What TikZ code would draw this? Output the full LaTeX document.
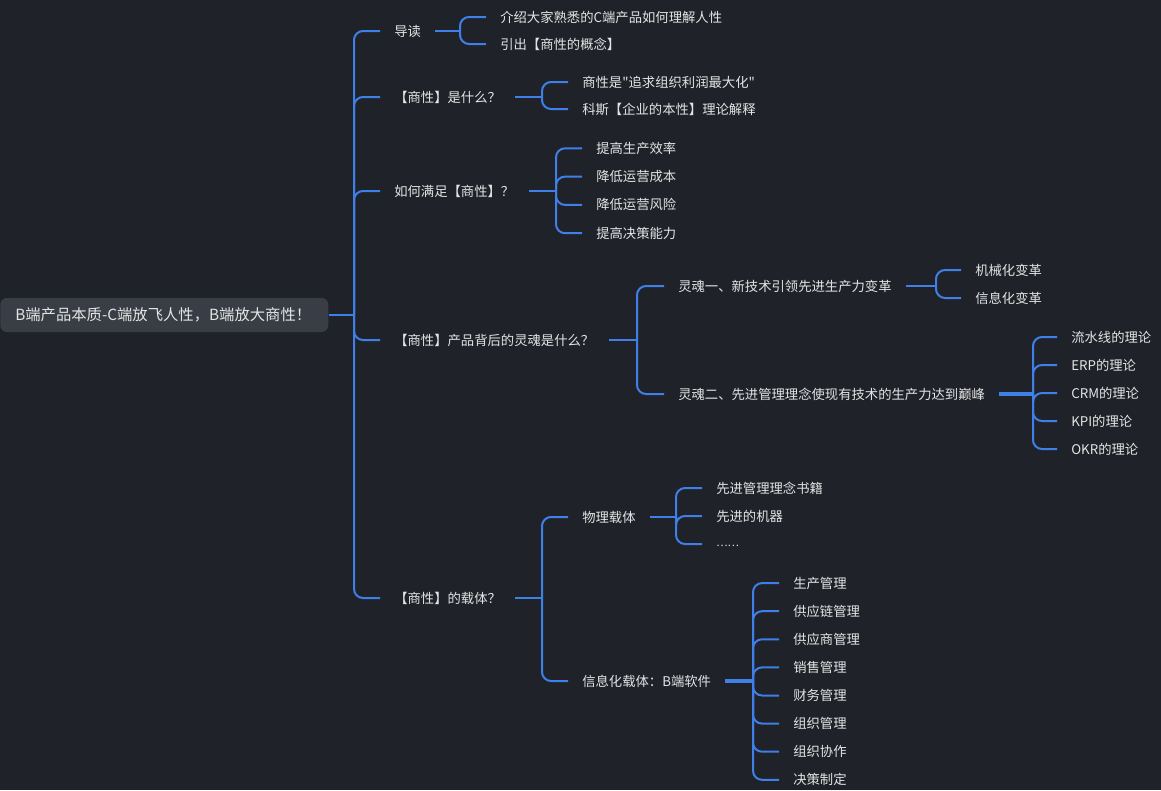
\documentclass[tikz,border=0pt]{standalone}
\usepackage{fontspec}
\setmainfont[Ligatures=TeXOff]{Noto Sans CJK SC}
\usetikzlibrary{calc}
\definecolor{bg}{HTML}{1F2229}
\definecolor{hubfill}{HTML}{393D45}
\definecolor{lnblue}{HTML}{3F7FE8}
\definecolor{txt}{HTML}{E4E4E4}

\begin{document}
\begin{tikzpicture}[
  x=0.75pt, y=-0.75pt,
  hub/.style={
    fill=hubfill, rounded corners=5pt, anchor=west,
    text width=223.5pt, inner xsep=11.25pt, align=left,
    minimum height=25.5pt,
    text=txt, font=\fontsize{11.5}{13.5}\selectfont
  },
  tpc/.style={
    anchor=west, inner xsep=10.5pt, inner ysep=2pt,
    text=txt, font=\fontsize{10}{12}\selectfont
  },
  lnk/.style={draw=lnblue, line width=1.5pt, rounded corners=6.75pt},
  lnkw/.style={lnk, line width=2.6pt},
]
\fill[bg] (0,0) rectangle (1161,790);
\useasboundingbox (0,0) rectangle (1161,790);

%% root and first level
\node[hub] (root) at (0,315) {B端产品本质-C端放飞人性，B端放大商性！};
\coordinate (trunk) at (354,315);

\node[tpc] (t1) at (380,31)  {导读};
\node[tpc] (t2) at (380,97)  {【商性】是什么？};
\node[tpc] (t3) at (380,191) {如何满足【商性】？};
\node[tpc] (t4) at (380,340) {【商性】产品背后的灵魂是什么？};
\node[tpc] (t5) at (380,598) {【商性】的载体？};

\draw[lnk] (root.east) -- (trunk);
\foreach \c in {t1,t2,t3,t4,t5}
  \draw[lnk] (trunk) |- (\c.west);

%% 导读
\node[tpc] (t1a) at (486,17) {介绍大家熟悉的C端产品如何理解人性};
\node[tpc] (t1b) at (486,44) {引出【商性的概念】};
\coordinate (f1) at (460,31);
\draw[lnk] (t1.east) -- (f1);
\foreach \c in {t1a,t1b}
  \draw[lnk] (f1) |- (\c.west);

%% 是什么
\node[tpc] (t2a) at (568,82)  {商性是"追求组织利润最大化"};
\node[tpc] (t2b) at (568,109) {科斯【企业的本性】理论解释};
\coordinate (f2) at (542,97);
\draw[lnk] (t2.east) -- (f2);
\foreach \c in {t2a,t2b}
  \draw[lnk] (f2) |- (\c.west);

%% 如何满足
\foreach \t [count=\i] in {提高生产效率,降低运营成本,降低运营风险,提高决策能力}
  \node[tpc] (t3\i) at (582,120+28.3*\i) {\t};
\coordinate (f3) at (556,191);
\draw[lnk] (t3.east) -- (f3);
\foreach \i in {1,...,4}
  \draw[lnk] (f3) |- (t3\i.west);

%% 灵魂
\node[tpc] (t4a) at (664,286) {灵魂一、新技术引领先进生产力变革};
\node[tpc] (t4b) at (664,394) {灵魂二、先进管理理念使现有技术的生产力达到巅峰};
\coordinate (f4) at (637,340);
\draw[lnk] (t4.east) -- (f4);
\foreach \c in {t4a,t4b}
  \draw[lnk] (f4) |- (\c.west);

\node[tpc] (t4aa) at (961,270) {机械化变革};
\node[tpc] (t4ab) at (961,298) {信息化变革};
\coordinate (f4a) at (936,286);
\draw[lnk] (t4a.east) -- (f4a);
\foreach \c in {t4aa,t4ab}
  \draw[lnk] (f4a) |- (\c.west);

\foreach \t [count=\i] in {流水线的理论,ERP的理论,CRM的理论,KPI的理论,OKR的理论}
  \node[tpc] (t4b\i) at (1057,309+28*\i) {\t};
\coordinate (f4b) at (1033,394);
\draw[lnkw] (t4b.east) -- (f4b);
\foreach \i in {1,...,5}
  \draw[lnk] (f4b) |- (t4b\i.west);

%% 载体
\node[tpc] (t5a) at (568,517) {物理载体};
\node[tpc] (t5b) at (568,681) {信息化载体：B端软件};
\coordinate (f5) at (542,598);
\draw[lnk] (t5.east) -- (f5);
\foreach \c in {t5a,t5b}
  \draw[lnk] (f5) |- (\c.west);

\node[tpc] (t5a1) at (702,488) {先进管理理念书籍};
\node[tpc] (t5a2) at (702,516) {先进的机器};
\node[tpc] (t5a3) at (702,544) {\fontsize{8}{10}\selectfont\raisebox{-3.5pt}{……}};
\coordinate (f5a) at (676,517);
\draw[lnk] (t5a.east) -- (f5a);
\foreach \i in {1,...,3}
  \draw[lnk] (f5a) |- (t5a\i.west);

\foreach \t [count=\i] in {生产管理,供应链管理,供应商管理,销售管理,财务管理,组织管理,组织协作,决策制定}
  \node[tpc] (t5b\i) at (779,555+28.1*\i) {\t};
\coordinate (f5b) at (753,681);
\draw[lnkw] (t5b.east) -- (f5b);
\foreach \i in {1,...,8}
  \draw[lnk] (f5b) |- (t5b\i.west);
\end{tikzpicture}
\end{document}
